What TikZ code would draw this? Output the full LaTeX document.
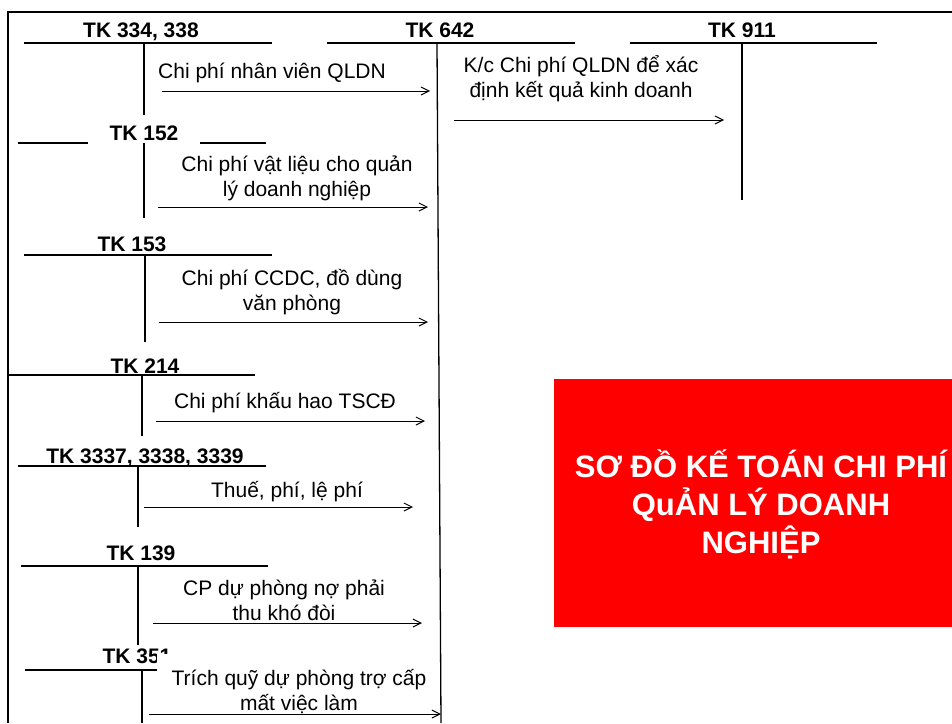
\documentclass[tikz,border=0pt]{standalone}
\usepackage{fontspec}
\setmainfont{Liberation Sans}
\usetikzlibrary{arrows.meta}
\definecolor{boxred}{HTML}{FF0000}

\begin{document}
\begin{tikzpicture}[x=1pt,y=-1pt,>={Straight Barb[length=8pt,width=8pt]},
  acc/.style={font=\bfseries\fontsize{21}{25}\selectfont,anchor=base,inner sep=0pt},
  note/.style={font=\fontsize{21}{25}\selectfont,align=center,anchor=base,inner sep=0pt},
  tline/.style={line width=2pt},
  entry/.style={->,line width=1pt}]
\useasboundingbox (0,0) rectangle (952,723);
\draw[line width=2pt] (8,723) -- (8,12) -- (952,12);

% T accounts
\node[acc] (tk334) at (141,37) {TK 334, 338};
\draw[tline] (24,43) -- (272,43) (144,43) -- (144,115);
\node[acc] (tk642) at (440,37) {TK 642};
\draw[tline] (327,43) -- (575,43);
\node[acc] (tk911) at (742,37) {TK 911};
\draw[tline] (630,43) -- (877,43) (742,43) -- (742,200);
\node[acc] (tk152) at (144,140) {TK 152};
\draw[tline] (18,143) -- (88,143) (200,143) -- (266,143) (144,143) -- (144,218);
\node[acc] (tk153) at (132,251) {TK 153};
\draw[tline] (24,255) -- (272,255) (145,255) -- (145,342);
\node[acc] (tk214) at (145,373) {TK 214};
\draw[tline] (8,375) -- (255,375) (142,375) -- (142,436);
\node[acc] (tk333) at (145,463) {TK 3337, 3338, 3339};
\draw[tline] (18,466) -- (266,466) (138,466) -- (138,527);
\node[acc] (tk139) at (141,560) {TK 139};
\draw[tline] (21,566) -- (268,566) (138,566) -- (138,645);
\node[acc] (tk351) at (137,663) {TK 351};
\draw[tline] (25,670) -- (157,670) (142,670) -- (142,723);

% entries (base = last line)
\node[note] (n1) at (272,78) {Chi phí nhân viên QLDN};
\node[note] (n2) at (581,97) {K/c Chi phí QLDN để xác\\định kết quả kinh doanh};
\node[note] (n3) at (297,196) {Chi phí vật liệu cho quản\\lý doanh nghiệp};
\node[note] (n4) at (292,310) {Chi phí CCDC, đồ dùng\\văn phòng};
\node[note] (n5) at (285,408) {Chi phí khấu hao TSCĐ};
\node[note] (n6) at (287,497) {Thuế, phí, lệ phí};
\node[note] (n7) at (284,620) {CP dự phòng nợ phải\\thu khó đòi};
\node[note,fill=white,inner xsep=15pt,inner ysep=15pt] (n8) at (299,710) {Trích quỹ dự phòng trợ cấp\\mất việc làm};

\draw[line width=1.3pt] (437,43) -- (441,723);

\coordinate (s1) at (162,91);  \coordinate (e1) at (430,91);
\coordinate (s2) at (454,120); \coordinate (e2) at (724,120);
\coordinate (s3) at (158,207); \coordinate (e3) at (428,207);
\coordinate (s4) at (159,322); \coordinate (e4) at (428,322);
\coordinate (s5) at (156,421); \coordinate (e5) at (425,421);
\coordinate (s6) at (144,507); \coordinate (e6) at (413,507);
\coordinate (s7) at (153,623); \coordinate (e7) at (422,623);
\coordinate (s8) at (149,714); \coordinate (e8) at (441,714);
\foreach \i in {1,...,8}
  \draw[entry] (s\i) -- (e\i);

% title
\node[fill=boxred,minimum width=398pt,minimum height=248pt,inner sep=0pt] (redbox) at (753,503) {};
\node[font=\bfseries\fontsize{31}{38}\selectfont,text=white,align=center,anchor=base,inner sep=0pt] (title) at (761,553) {SƠ ĐỒ KẾ TOÁN CHI PHÍ\\QuẢN LÝ DOANH\\NGHIỆP};
\end{tikzpicture}
\end{document}
